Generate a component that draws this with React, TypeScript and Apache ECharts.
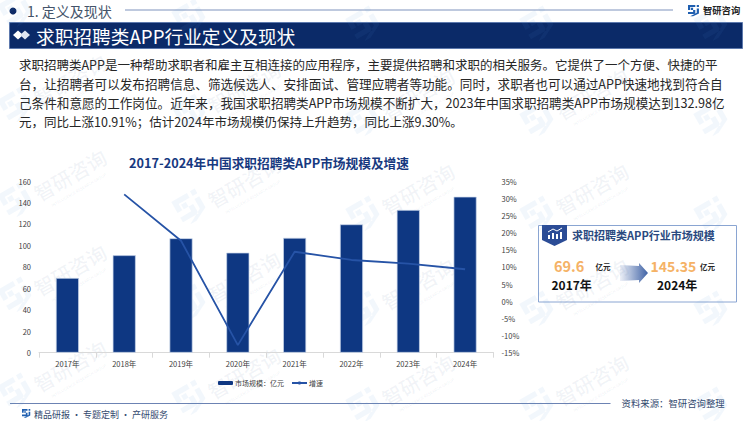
import React, { useEffect, useRef } from "react";
import * as echarts from "echarts";

const categories = ["2017年", "2018年", "2019年", "2020年", "2021年", "2022年", "2023年", "2024年"];
const marketSize = [69.6, 90.8, 106.6, 93.2, 107, 119.6, 132.98, 145.35];
const growth: (number | null)[] = [null, 31.1, 17.6, -12.8, 14.4, 12, 10.91, 9.3];
const bodyLines = [
  "求职招聘类APP是一种帮助求职者和雇主互相连接的应用程序，主要提供招聘和求职的相关服务。它提供了一个方便、快捷的平",
  "台，让招聘者可以发布招聘信息、筛选候选人、安排面试、管理应聘者等功能。同时，求职者也可以通过APP快速地找到符合自",
  "己条件和意愿的工作岗位。近年来，我国求职招聘类APP市场规模不断扩大，2023年中国求职招聘类APP市场规模达到132.98亿",
  "元，同比上涨10.91%；估计2024年市场规模仍保持上升趋势，同比上涨9.30%。",
];
const bodySizes = [12.5, 12.6, 12.6, 12.5];
const wmCols = [70, 244, 418, 592, 766];
const wmColOffset = [0, 7, 14, 14, 14];
const wmRows = [-15, 80, 175, 270, 366];

const FONT = '"Noto Sans CJK SC", "Noto Sans", sans-serif';
const NAVY = "#0e2a66";
const LOGO_D = "M0 0H10V3H3V7H0Z M4 4H7V10H0V13H10V7H4Z M12 0H15V3H12Z M12 5H15V12L7 16H3L12 11Z";

export default function App() {
  const ref = useRef<HTMLDivElement>(null);
  useEffect(() => {
    document.body.style.margin = "0";
    echarts.graphic.registerShape("logo", echarts.graphic.extendPath(LOGO_D as any, {} as any) as any);
    const chart = echarts.init(ref.current!, undefined, { renderer: "svg" });

    const watermarks: any[] = [];
    wmCols.forEach((cx, ci) =>
      wmRows.forEach((row, ri) => {
        const cy = row + wmColOffset[ci];
        const showText = ci < 4 && ri > 0;
        const children: any[] = [
          { type: "logo", x: -73, y: -19, scaleX: 1.8, scaleY: 1.8, style: { fill: "rgba(80,150,215,0.075)" } },
        ];
        if (showText) {
          children.push(
            { type: "text", x: 0, y: 0, style: { text: "智研咨询", font: `500 20px ${FONT}`, fill: "rgba(110,130,170,0.09)", textAlign: "center", textVerticalAlign: "middle", letterSpacing: 2 } },
            { type: "text", x: 0, y: 17, style: { text: "INTELLIGENCE RESEARCH GROUP", font: `4px ${FONT}`, fill: "rgba(110,130,170,0.14)", textAlign: "center", textVerticalAlign: "middle" } }
          );
        }
        watermarks.push({ type: "group", x: cx, y: cy, rotation: Math.PI / 6, silent: true, z: 100, children });
      })
    );

    const option: any = {
      animation: false,
      backgroundColor: "#ffffff",
      textStyle: { fontFamily: FONT },
      grid: { left: 39, right: 256.5, top: 181, height: 171.7 },
      legend: {
        left: 218, top: 379.5, padding: 0, itemGap: 7, itemWidth: 15, itemHeight: 4,
        textStyle: { fontSize: 7, color: "#404040", fontFamily: FONT, padding: [0, 0, 0, -3] },
        data: [{ name: "市场规模：亿元", itemStyle: { borderWidth: 0 } }, { name: "增速" }],
      },
      xAxis: {
        type: "category", data: categories,
        axisLine: { lineStyle: { color: "#d9d9d9" } },
        axisTick: { show: true, alignWithLabel: false, lineStyle: { color: "#d9d9d9" } },
        axisLabel: { fontSize: 7.5, color: "#404040", margin: 7 },
      },
      yAxis: [
        {
          type: "value", min: 0, max: 160, interval: 20,
          splitLine: { show: false }, axisLine: { show: false }, axisTick: { show: false },
          axisLabel: { fontSize: 7.5, color: "#404040", margin: 8 },
        },
        {
          type: "value", min: -15, max: 35, interval: 5, position: "right",
          splitLine: { show: false }, axisLine: { show: false }, axisTick: { show: false },
          axisLabel: { fontSize: 7.5, color: "#404040", margin: 8, formatter: "{value}%" },
        },
      ],
      series: [
        { name: "市场规模：亿元", type: "bar", data: marketSize, barWidth: 23, itemStyle: { color: "#0e3782", borderColor: "#c9d6ea", borderWidth: 0.7 } },
        { name: "增速", type: "line", yAxisIndex: 1, data: growth, showSymbol: false, symbol: "none", connectNulls: false, lineStyle: { color: "#2653a6", width: 1.8 }, itemStyle: { color: "#2653a6" } },
      ],
      graphic: [
        { type: "circle", shape: { cx: 13, cy: 11, r: 3.5 }, style: { fill: NAVY } },
        { type: "text", x: 27, y: 11, style: { text: "1. 定义及现状", font: `14px ${FONT}`, fill: "#44546a", textVerticalAlign: "middle" } },
        { type: "line", shape: { x1: 125, y1: 10, x2: 673, y2: 10 }, style: { stroke: "#7f93bd", lineWidth: 1 } },
        { type: "text", x: 703, y: 9.5, style: { text: "智研咨询", font: `bold 9.3px ${FONT}`, fill: "#222222", textVerticalAlign: "middle" } },
        { type: "logo", x: 688, y: 5, scaleX: 0.73, scaleY: 0.7, style: { fill: "#1f5fb0" } },
        { type: "rect", shape: { x: 9.5, y: 22.5, width: 733, height: 26 }, style: { fill: "#0b2a68", stroke: "#5d79ad", lineWidth: 1 } },
        { type: "polygon", shape: { points: [[13, 35], [18, 30.5], [23, 35], [18, 39.5]] }, style: { fill: "#ffffff" } },
        { type: "polygon", shape: { points: [[20, 35], [25, 30.5], [30, 35], [25, 39.5]] }, style: { fill: "#dfe6f2" } },
        { type: "text", x: 36, y: 35, style: { text: "求职招聘类APP行业定义及现状", font: `18.7px ${FONT}`, fill: "#ffffff", textVerticalAlign: "middle" } },
        ...bodyLines.map((t, i) => ({
          type: "text", x: 19, y: 64.5 + i * 19.1,
          style: { text: t, font: `${bodySizes[i]}px ${FONT}`, fill: "#262626", textVerticalAlign: "middle" },
        })),
        { type: "text", x: 269, y: 162, style: { text: "2017-2024年中国求职招聘类APP市场规模及增速", font: `bold 12.7px ${FONT}`, fill: "#17397f", textAlign: "center", textVerticalAlign: "middle" } },
        { type: "rect", shape: { x: 538.5, y: 225.5, width: 198, height: 76.5 }, style: { fill: "#ffffff", stroke: "#8aa5d2", lineWidth: 1 } },
        { type: "polygon", shape: { points: [[542, 225], [567, 225], [567, 240], [554.5, 246], [542, 240]] }, style: { fill: "#2b4c96" } },
        { type: "rect", shape: { x: 548, y: 235, width: 2, height: 4 }, style: { fill: "#ffffff" } },
        { type: "rect", shape: { x: 552, y: 233, width: 2, height: 6 }, style: { fill: "#ffffff" } },
        { type: "rect", shape: { x: 556, y: 234, width: 2, height: 5 }, style: { fill: "#ffffff" } },
        { type: "rect", shape: { x: 560, y: 232, width: 2, height: 7 }, style: { fill: "#ffffff" } },
        { type: "polyline", shape: { points: [[548, 232], [553, 229], [557, 231], [562, 228]] }, style: { stroke: "#ffffff", lineWidth: 1, fill: "none" } },
        { type: "text", x: 572, y: 235, style: { text: "求职招聘类APP行业市场规模", font: `bold 11px ${FONT}`, fill: "#2a4a80", textVerticalAlign: "middle" } },
        { type: "text", x: 554, y: 265.5, style: { text: "69.6", font: `bold 14.5px ${FONT}`, fill: "#f5b266", textVerticalAlign: "middle" } },
        { type: "text", x: 595.5, y: 266.5, style: { text: "亿元", font: `bold 7.5px ${FONT}`, fill: "#262626", textVerticalAlign: "middle" } },
        { type: "text", x: 551.5, y: 284, style: { text: "2017年", font: `bold 12px ${FONT}`, fill: "#111111", textVerticalAlign: "middle" } },
        { type: "polygon", shape: { points: [[620, 265], [639, 266], [639, 263], [648, 273], [639, 283], [639, 280], [620, 281]] }, style: { fill: new echarts.graphic.LinearGradient(0, 0, 1, 0, [{ offset: 0, color: "#eef1f8" }, { offset: 1, color: "#3f62a5" }]) } },
        { type: "text", x: 650.5, y: 265.5, style: { text: "145.35", font: `bold 14px ${FONT}`, fill: "#f5b266", textVerticalAlign: "middle" } },
        { type: "text", x: 700, y: 266.5, style: { text: "亿元", font: `bold 7.5px ${FONT}`, fill: "#262626", textVerticalAlign: "middle" } },
        { type: "text", x: 657, y: 284, style: { text: "2024年", font: `bold 12px ${FONT}`, fill: "#111111", textVerticalAlign: "middle" } },
        { type: "line", shape: { x1: 10, y1: 403.5, x2: 610.5, y2: 403.5 }, style: { stroke: "#6c83b3", lineWidth: 1 } },
        { type: "logo", x: 22, y: 409, scaleX: 0.55, scaleY: 0.55, style: { fill: "#1f5fb0" } },
        { type: "text", x: 34, y: 414, style: { text: "精品研报 · 专题定制 · 产研服务", font: `9px ${FONT}`, fill: "#33496e", textVerticalAlign: "middle" } },
        { type: "text", x: 621.5, y: 403, style: { text: "资料来源：智研咨询整理", font: `9.4px ${FONT}`, fill: "#33496e", textVerticalAlign: "middle" } },
        ...watermarks,
      ],
    };
    chart.setOption(option);
    return () => chart.dispose();
  }, []);
  return <div ref={ref} style={{ position: "absolute", left: 0, top: 0, width: 750, height: 421 }} />;
}
